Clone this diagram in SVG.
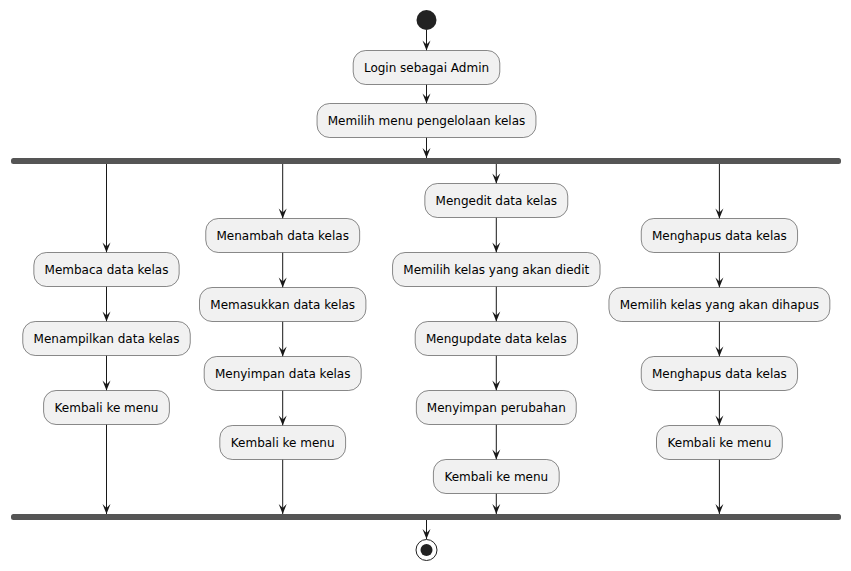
<svg xmlns="http://www.w3.org/2000/svg" width="851" height="571" viewBox="0 0 851 571">
<defs>
<style>
.box{fill:#F1F1F1;stroke:#181818;stroke-width:0.5}
.lbl{font-family:"DejaVu Sans",sans-serif;font-size:12px;fill:#000000;text-anchor:middle}
.bar{fill:#555555;stroke:none}
.edge{stroke:#181818;stroke-width:1;fill:none;marker-end:url(#ah)}
</style>
<marker id="ah" markerUnits="userSpaceOnUse" markerWidth="10" markerHeight="8" refX="10" refY="4" orient="auto" overflow="visible">
<path d="M0,0 L10,4 L0,8 L4,4 Z" fill="#181818"/>
</marker>
</defs>
<rect width="851" height="571" fill="#FFFFFF"/>
<g id="connectors">
<line class="edge" x1="426.5" y1="30" x2="426.5" y2="50.5"/>
<line class="edge" x1="426.5" y1="84.5" x2="426.5" y2="103.5"/>
<line class="edge" x1="426.5" y1="137.5" x2="426.5" y2="158"/>
<line class="edge" x1="106.5" y1="164" x2="106.5" y2="252.5"/>
<line class="edge" x1="106.5" y1="286.5" x2="106.5" y2="321.5"/>
<line class="edge" x1="106.5" y1="355.5" x2="106.5" y2="390.5"/>
<line class="edge" x1="106.5" y1="424.5" x2="106.5" y2="514"/>
<line class="edge" x1="282.7" y1="164" x2="282.7" y2="218.5"/>
<line class="edge" x1="282.7" y1="252.5" x2="282.7" y2="287.5"/>
<line class="edge" x1="282.7" y1="321.5" x2="282.7" y2="356.5"/>
<line class="edge" x1="282.7" y1="390.5" x2="282.7" y2="425.5"/>
<line class="edge" x1="282.7" y1="459.5" x2="282.7" y2="514"/>
<line class="edge" x1="496.3" y1="164" x2="496.3" y2="183.5"/>
<line class="edge" x1="496.3" y1="217.5" x2="496.3" y2="252.5"/>
<line class="edge" x1="496.3" y1="286.5" x2="496.3" y2="321.5"/>
<line class="edge" x1="496.3" y1="355.5" x2="496.3" y2="390.5"/>
<line class="edge" x1="496.3" y1="424.5" x2="496.3" y2="459.5"/>
<line class="edge" x1="496.3" y1="493.5" x2="496.3" y2="514"/>
<line class="edge" x1="719.4" y1="164" x2="719.4" y2="218.5"/>
<line class="edge" x1="719.4" y1="252.5" x2="719.4" y2="287.5"/>
<line class="edge" x1="719.4" y1="321.5" x2="719.4" y2="356.5"/>
<line class="edge" x1="719.4" y1="390.5" x2="719.4" y2="425.5"/>
<line class="edge" x1="719.4" y1="459.5" x2="719.4" y2="514"/>
<line class="edge" x1="426.5" y1="520" x2="426.5" y2="539"/>
</g>
<g id="start"><circle cx="426.5" cy="20" r="10" fill="#222222"/></g>
<g id="login"><rect class="box" x="353.2" y="50.5" width="146.6" height="34" rx="12.5"/><text class="lbl" x="426.5" y="72">Login sebagai Admin</text></g>
<g id="menu"><rect class="box" x="317.05" y="103.5" width="218.9" height="34" rx="12.5"/><text class="lbl" x="426.5" y="125">Memilih menu pengelolaan kelas</text></g>
<g id="fork"><rect class="bar" x="11" y="158" width="830" height="6" rx="2.5"/></g>
<g id="b1n1"><rect class="box" x="33.85" y="252.5" width="145.3" height="34" rx="12.5"/><text class="lbl" x="106.5" y="274">Membaca data kelas</text></g>
<g id="b1n2"><rect class="box" x="22.75" y="321.5" width="167.5" height="34" rx="12.5"/><text class="lbl" x="106.5" y="343">Menampilkan data kelas</text></g>
<g id="b1n3"><rect class="box" x="43.6" y="390.5" width="125.8" height="34" rx="12.5"/><text class="lbl" x="106.5" y="412">Kembali ke menu</text></g>
<g id="b2n1"><rect class="box" x="205.75" y="218.5" width="153.9" height="34" rx="12.5"/><text class="lbl" x="282.7" y="240">Menambah data kelas</text></g>
<g id="b2n2"><rect class="box" x="199.5" y="287.5" width="166.4" height="34" rx="12.5"/><text class="lbl" x="282.7" y="309">Memasukkan data kelas</text></g>
<g id="b2n3"><rect class="box" x="204.2" y="356.5" width="157" height="34" rx="12.5"/><text class="lbl" x="282.7" y="378">Menyimpan data kelas</text></g>
<g id="b2n4"><rect class="box" x="219.8" y="425.5" width="125.8" height="34" rx="12.5"/><text class="lbl" x="282.7" y="447">Kembali ke menu</text></g>
<g id="b3n1"><rect class="box" x="424.85" y="183.5" width="142.9" height="34" rx="12.5"/><text class="lbl" x="496.3" y="205">Mengedit data kelas</text></g>
<g id="b3n2"><rect class="box" x="392.55" y="252.5" width="207.5" height="34" rx="12.5"/><text class="lbl" x="496.3" y="274">Memilih kelas yang akan diedit</text></g>
<g id="b3n3"><rect class="box" x="415.2" y="321.5" width="162.2" height="34" rx="12.5"/><text class="lbl" x="496.3" y="343">Mengupdate data kelas</text></g>
<g id="b3n4"><rect class="box" x="416.35" y="390.5" width="159.9" height="34" rx="12.5"/><text class="lbl" x="496.3" y="412">Menyimpan perubahan</text></g>
<g id="b3n5"><rect class="box" x="433.4" y="459.5" width="125.8" height="34" rx="12.5"/><text class="lbl" x="496.3" y="481">Kembali ke menu</text></g>
<g id="b4n1"><rect class="box" x="641.25" y="218.5" width="156.3" height="34" rx="12.5"/><text class="lbl" x="719.4" y="240">Menghapus data kelas</text></g>
<g id="b4n2"><rect class="box" x="608.95" y="287.5" width="220.9" height="34" rx="12.5"/><text class="lbl" x="719.4" y="309">Memilih kelas yang akan dihapus</text></g>
<g id="b4n3"><rect class="box" x="641.25" y="356.5" width="156.3" height="34" rx="12.5"/><text class="lbl" x="719.4" y="378">Menghapus data kelas</text></g>
<g id="b4n4"><rect class="box" x="656.5" y="425.5" width="125.8" height="34" rx="12.5"/><text class="lbl" x="719.4" y="447">Kembali ke menu</text></g>
<g id="join"><rect class="bar" x="11" y="514" width="830" height="6" rx="2.5"/></g>
<g id="end"><circle cx="426.5" cy="550" r="10.5" fill="none" stroke="#222222" stroke-width="1"/><circle cx="426.5" cy="550" r="6" fill="#222222"/></g>
</svg>
